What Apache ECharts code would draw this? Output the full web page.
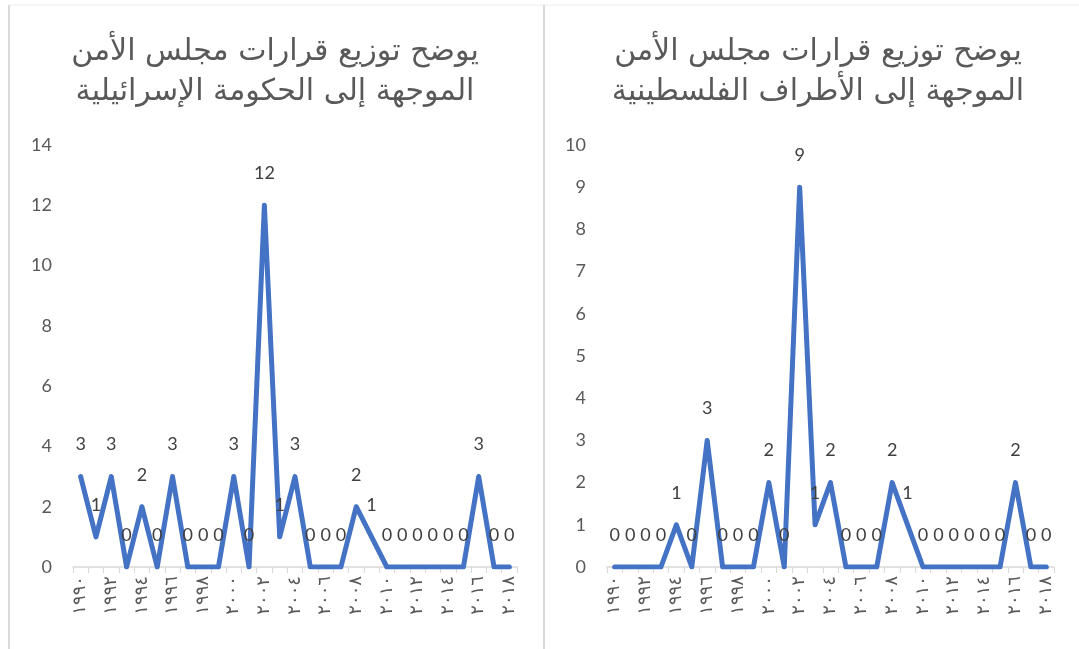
<!DOCTYPE html>
<html>
<head>
<meta charset="utf-8">
<script src="https://cdn.jsdelivr.net/npm/echarts@6/dist/echarts.min.js"></script>
<style>
  html, body { margin: 0; padding: 0; background: #fff; }
  #main { width: 1079px; height: 649px; }
</style>
</head>
<body>
<div id="main"></div>
<script>
// السنوات من ١٩٩٠ إلى ٢٠١٨
const years = ['١٩٩٠', '١٩٩١', '١٩٩٢', '١٩٩٣', '١٩٩٤', '١٩٩٥', '١٩٩٦', '١٩٩٧', '١٩٩٨', '١٩٩٩',
    '٢٠٠٠', '٢٠٠١', '٢٠٠٢', '٢٠٠٣', '٢٠٠٤', '٢٠٠٥', '٢٠٠٦', '٢٠٠٧', '٢٠٠٨', '٢٠٠٩',
    '٢٠١٠', '٢٠١١', '٢٠١٢', '٢٠١٣', '٢٠١٤', '٢٠١٥', '٢٠١٦', '٢٠١٧', '٢٠١٨'];

// القرارات الموجهة إلى الحكومة الإسرائيلية
const israelValues = [3, 1, 3, 0, 2, 0, 3, 0, 0, 0, 3, 0, 12, 1, 3, 0, 0, 0, 2, 1, 0, 0, 0, 0, 0, 0, 3, 0, 0];
// القرارات الموجهة إلى الأطراف الفلسطينية
const palestineValues = [0, 0, 0, 0, 1, 0, 3, 0, 0, 0, 2, 0, 9, 1, 2, 0, 0, 0, 2, 1, 0, 0, 0, 0, 0, 0, 2, 0, 0];

const titleLeft = 'يوضح توزيع قرارات مجلس الأمن\nالموجهة إلى الحكومة الإسرائيلية';
const titleRight = 'يوضح توزيع قرارات مجلس الأمن\nالموجهة إلى الأطراف الفلسطينية';

const textColor = '#595959';
const lineColor = '#4472C4';
const axisGray = '#d9d9d9';

function xAxisFor(idx) {
    return {
        type: 'category',
        gridIndex: idx,
        data: years,
        boundaryGap: true,
        axisLine: { lineStyle: { color: axisGray, width: 1.5 } },
        axisTick: { show: true, interval: 0, length: 6, lineStyle: { color: axisGray } },
        axisLabel: {
            interval: 1, rotate: 90, margin: 9,
            color: textColor, fontSize: 18, fontFamily: 'DejaVu Sans'
        }
    };
}

function yAxisFor(idx, max, step) {
    return {
        type: 'value',
        gridIndex: idx,
        min: 0, max: max, interval: step,
        splitLine: { show: false },
        axisLine: { show: false },
        axisTick: { show: false },
        axisLabel: { color: textColor, fontSize: 18, fontFamily: 'Lato', margin: 21 }
    };
}

function seriesFor(idx, values) {
    return {
        type: 'line',
        xAxisIndex: idx,
        yAxisIndex: idx,
        data: values,
        symbol: 'circle',
        symbolSize: 4,
        showSymbol: true,
        itemStyle: { color: lineColor },
        lineStyle: { color: lineColor, width: 5, join: 'round', cap: 'round' },
        label: {
            show: true, position: 'top', distance: 21,
            color: '#404040', fontSize: 18, fontFamily: 'Lato'
        },
        animation: false
    };
}

const myChart = echarts.init(document.getElementById('main'));
myChart.setOption({
    backgroundColor: '#fff',
    title: [
        {
            text: titleLeft, left: 270, top: 27, textAlign: 'center',
            textStyle: { color: textColor, fontSize: 30, fontWeight: 'normal', lineHeight: 40, fontFamily: 'DejaVu Sans' }
        },
        {
            text: titleRight, left: 813, top: 27, textAlign: 'center',
            textStyle: { color: textColor, fontSize: 30, fontWeight: 'normal', lineHeight: 40, fontFamily: 'DejaVu Sans' }
        }
    ],
    grid: [
        { left: 73, top: 145, width: 444, height: 422 },
        { left: 607, top: 145, width: 447, height: 422 }
    ],
    xAxis: [xAxisFor(0), xAxisFor(1)],
    yAxis: [yAxisFor(0, 14, 2), yAxisFor(1, 10, 1)],
    series: [seriesFor(0, israelValues), seriesFor(1, palestineValues)],
    graphic: [
        { type: 'line', shape: { x1: 9, y1: 5, x2: 1079, y2: 5 }, style: { stroke: '#eeeeee', lineWidth: 1 } },
        { type: 'line', shape: { x1: 9, y1: 5, x2: 9, y2: 649 }, style: { stroke: axisGray, lineWidth: 2 } },
        { type: 'line', shape: { x1: 544, y1: 5, x2: 544, y2: 649 }, style: { stroke: axisGray, lineWidth: 2 } }
    ]
});
</script>
</body>
</html>
